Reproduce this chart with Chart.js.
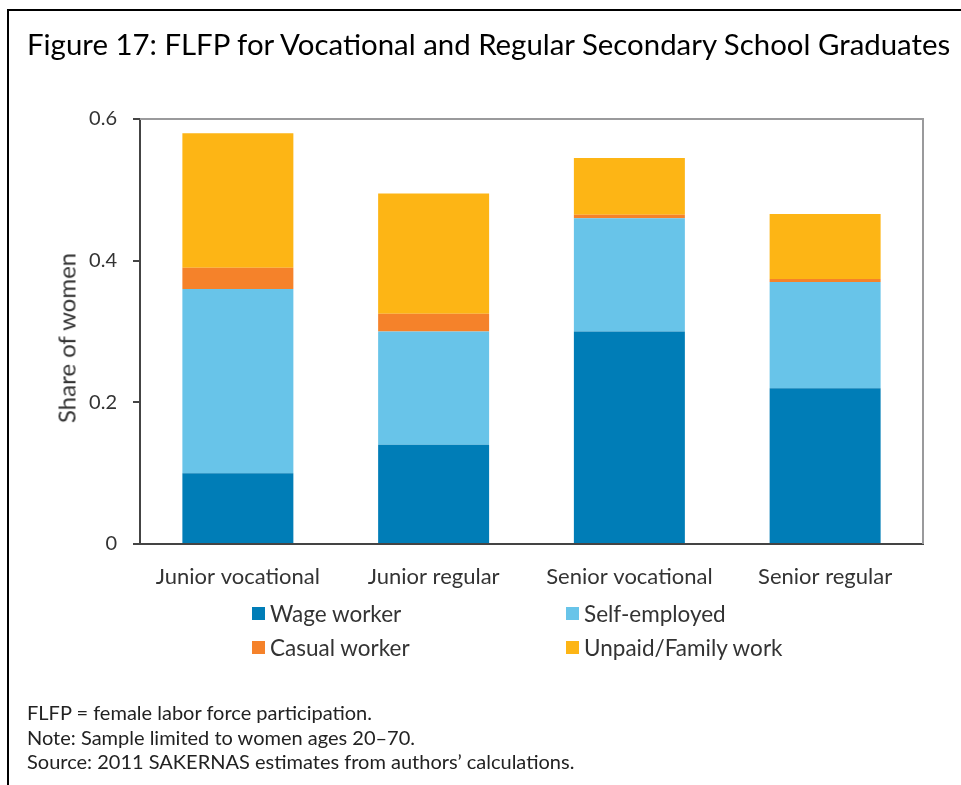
<!DOCTYPE html>
<html>
<head>
<meta charset="utf-8">
<script src="https://cdn.jsdelivr.net/npm/chart.js@4.4.1/dist/chart.umd.min.js"></script>
<style>
  html, body { margin: 0; padding: 0; background: #fff; }
  body { width: 961px; height: 785px; position: relative; overflow: hidden; font-family: Lato, "Open Sans", sans-serif; color: #222; }
  #frame { position: absolute; left: 7px; top: 9px; right: -5px; bottom: -5px; border-left: 2px solid #000; border-top: 2px solid #000; }
  #title { position: absolute; left: 27px; top: 26px; font-size: 29.4px; color: #000; white-space: nowrap; }
  #wrap { position: absolute; left: 0; top: 0; width: 961px; height: 785px; }
  #ytitle { position: absolute; left: 66px; top: 338px; transform: translate(-50%, -50%) rotate(-90deg); font-size: 24px; color: #333; white-space: nowrap; }
  #legend { position: absolute; left: 0; top: 0; }
  .item { position: absolute; display: flex; align-items: center; font-size: 22.5px; color: #333; white-space: nowrap; }
  .box { width: 13px; height: 13px; margin-right: 5px; }
  #notes { position: absolute; left: 27px; top: 700px; font-size: 20px; line-height: 24.5px; color: #222; }
</style>
</head>
<body>
<div id="frame"></div>
<div id="wrap"><canvas id="chart" width="961" height="785"></canvas></div>
<div id="title">Figure 17: FLFP for Vocational and Regular Secondary School Graduates</div>
<div id="ytitle">Share of women</div>
<div id="legend"></div>
<div id="notes">
  FLFP = female labor force participation.<br>
  Note: Sample limited to women ages 20–70.<br>
  Source: 2011 SAKERNAS estimates from authors’ calculations.
</div>
<script>
// chart data
const categories = ['Junior vocational', 'Junior regular', 'Senior vocational', 'Senior regular'];
const wageWorker = [0.10, 0.14, 0.30, 0.22];
const selfEmployed = [0.26, 0.16, 0.16, 0.15];
const casualWorker = [0.03, 0.025, 0.005, 0.004];
const unpaidFamily = [0.19, 0.17, 0.08, 0.092];
const yTicks = [0, 0.2, 0.4, 0.6];

const seriesNames = ['Wage worker', 'Self-employed', 'Casual worker', 'Unpaid/Family work'];
const seriesColors = ['#007db7', '#68c4e9', '#f5822a', '#fdb515'];
const seriesData = [wageWorker, selfEmployed, casualWorker, unpaidFamily];

const FONT = 'Lato, "Open Sans", sans-serif';

// gray frame on the top and right of the plot
const plotFrame = {
    id: 'plotFrame',
    afterDraw(chart) {
        const a = chart.chartArea;
        const ctx = chart.ctx;
        ctx.save();
        ctx.strokeStyle = '#9a9a9c';
        ctx.lineWidth = 2;
        ctx.beginPath();
        ctx.moveTo(a.left, a.top);
        ctx.lineTo(a.right, a.top);
        ctx.lineTo(a.right, a.bottom);
        ctx.stroke();
        ctx.restore();
    }
};

const chart = new Chart(document.getElementById('chart'), {
    type: 'bar',
    data: {
        labels: categories,
        datasets: seriesData.map((d, i) => ({
            label: seriesNames[i],
            data: d,
            backgroundColor: seriesColors[i],
            borderWidth: 0
        }))
    },
    options: {
        responsive: false,
        animation: false,
        layout: { padding: { left: 30, right: 38, top: 119, bottom: 191 } },
        datasets: { bar: { categoryPercentage: 1, barPercentage: 0.567 } },
        plugins: { legend: { display: false }, tooltip: { enabled: false } },
        scales: {
            x: {
                stacked: true,
                grid: { display: false },
                border: { display: true, color: '#444', width: 2 },
                ticks: { padding: 12, color: '#333', font: { family: FONT, size: 22 } },
                afterFit(scale) { scale.height = 50; }
            },
            y: {
                stacked: true,
                min: 0, max: 0.6,
                afterBuildTicks(scale) { scale.ticks = yTicks.map(v => ({ value: v })); },
                grid: { drawOnChartArea: false, drawTicks: true, tickLength: 7, color: '#444', lineWidth: 2 },
                border: { display: true, color: '#444', width: 2 },
                ticks: {
                    padding: 16, color: '#333', font: { family: FONT, size: 20 },
                    callback: v => (v === 0 ? '0' : v.toFixed(1))
                },
                afterFit(scale) { scale.width = 110; }
            }
        }
    },
    plugins: [plotFrame]
});

// legend in two columns, built from the chart datasets
const legendPos = [[252, 614], [566, 614], [252, 648], [566, 648]];
const legend = document.getElementById('legend');
chart.data.datasets.forEach((ds, i) => {
    const el = document.createElement('div');
    el.className = 'item';
    el.style.left = legendPos[i][0] + 'px';
    el.style.top = (legendPos[i][1] - 14) + 'px';
    el.innerHTML = `<span class="box" style="background:${ds.backgroundColor}"></span>${ds.label}`;
    legend.appendChild(el);
});
</script>
</body>
</html>
